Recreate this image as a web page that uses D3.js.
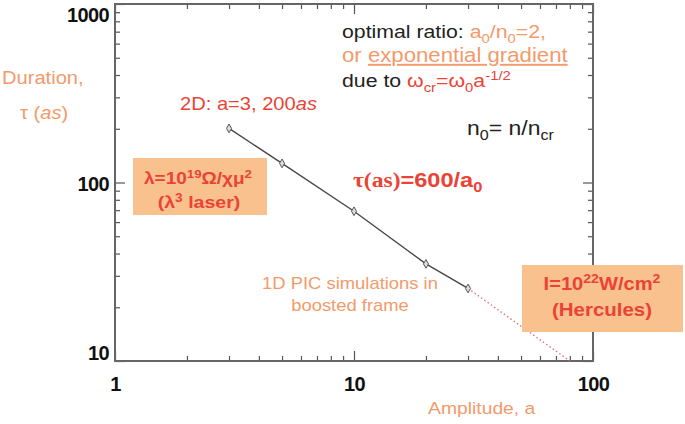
<!DOCTYPE html>
<html>
<head>
<meta charset="utf-8">
<script src="https://cdn.jsdelivr.net/npm/d3@7"></script>
<style>
  body { margin: 0; background: #fff; }
  svg { display: block; font-family: "Liberation Sans", Arial, sans-serif; }
</style>
</head>
<body>
<svg id="chart" width="685" height="424"></svg>
<script>
// values
const amplitudes = [3, 5, 10, 20, 30];
const durations = [201, 128, 69, 35, 25.5];
const extrapAmplitudes = [30, 80];
const extrapDurations = [25.5, 10];
const xMajor = [1, 10, 100];
const xMinor = [2, 3, 4, 5, 6, 7, 8, 9, 20, 30, 40, 50, 60, 70, 80, 90];
const yMajor = [10, 100, 1000];
const yMinor = [20, 30, 40, 50, 60, 70, 80, 90, 200, 300, 400, 500, 600, 700, 800, 900];

const ORANGE = "#f39a6b", RED = "#ea4335", BOX = "#f9c18e", INK = "#222";
const SX = 1.15; // slide text looks stretched sideways

const svg = d3.select("#chart");
const x = d3.scaleLog().domain([1, 100]).range([115, 593]);
const y = d3.scaleLog().domain([10, 1000]).range([361, 4]);

// ticks on all four sides, pointing inward
function ticks(axis, vals, len, tr) {
  const g = svg.append("g").attr("transform", tr)
    .call(axis.tickValues(vals).tickSize(-len).tickFormat(""));
  g.select(".domain").remove();
  g.selectAll(".tick line").attr("stroke", "#555").attr("stroke-width", 1.2);
}
ticks(d3.axisBottom(x), xMajor, 10, "translate(0,361)");
ticks(d3.axisBottom(x), xMinor, 5, "translate(0,361)");
ticks(d3.axisTop(x), xMajor, 10, "translate(0,4)");
ticks(d3.axisTop(x), xMinor, 5, "translate(0,4)");
ticks(d3.axisLeft(y), yMajor, 10, "translate(115,0)");
ticks(d3.axisLeft(y), yMinor, 5, "translate(115,0)");
ticks(d3.axisRight(y), yMajor, 10, "translate(593,0)");
ticks(d3.axisRight(y), yMinor, 5, "translate(593,0)");

svg.append("rect").attr("x", 115).attr("y", 4).attr("width", 478).attr("height", 357)
  .attr("fill", "none").attr("stroke", "#666").attr("stroke-width", 2);

// tick labels
const xl = svg.append("g").attr("transform", "translate(0,361)")
  .call(d3.axisBottom(x).tickValues(xMajor).tickSize(0).tickPadding(16).tickFormat(d3.format("d")));
xl.select(".domain").remove();
const yl = svg.append("g").attr("transform", "translate(115,0)")
  .call(d3.axisLeft(y).tickValues(yMajor).tickSize(0).tickPadding(6).tickFormat(d3.format("d")));
yl.select(".domain").remove();
const yShift = { 10: -8, 100: 2, 1000: 11 };
svg.selectAll(".tick text")
  .attr("font-family", "'Liberation Sans', Arial, sans-serif")
  .attr("font-size", 20).attr("font-weight", "bold").attr("fill", "#111")
  .attr("letter-spacing", -0.6);
yl.selectAll(".tick text").attr("transform", d => `translate(0,${yShift[d]})`);

// extrapolation
const line = d3.line().x(d => x(d[0])).y(d => y(d[1]));
svg.append("path").datum(d3.zip(extrapAmplitudes, extrapDurations)).attr("d", line)
  .attr("fill", "none").attr("stroke", "#e86a6a").attr("stroke-width", 1.3)
  .attr("stroke-dasharray", "1.5,2.5");

// simulation line + markers
const pts = d3.zip(amplitudes, durations);
svg.append("path").datum(pts).attr("d", line)
  .attr("fill", "none").attr("stroke", "#444").attr("stroke-width", 1.3);
svg.selectAll("path.mk").data(pts).join("path").attr("class", "mk")
  .attr("transform", d => `translate(${x(d[0])},${y(d[1])})`)
  .attr("d", d3.symbol(d3.symbolDiamond, 22))
  .attr("fill", "#ddd").attr("stroke", "#555").attr("stroke-width", 1);

// rich text helper
function rich(px, py, parts, opts = {}) {
  const size = opts.size || 17;
  const t = svg.append("text")
    .attr("transform", `translate(${px},${py}) scale(${SX},1)`)
    .attr("font-size", size).attr("fill", opts.fill || INK)
    .attr("font-weight", opts.bold ? "bold" : null)
    .attr("text-anchor", opts.anchor || "start");
  let shift = 0;
  parts.forEach(p => {
    const target = p.sub ? size * 0.25 : p.sup ? -size * 0.38 : 0;
    const s = t.append("tspan").text(p.t).attr("dy", target - shift);
    shift = target;
    if (p.sub || p.sup) s.attr("font-size", size * 0.7);
    if (p.fill) s.attr("fill", p.fill);
    if (p.italic) s.attr("font-style", "italic");
    if (p.u) s.attr("text-decoration", "underline");
    if (p.family) s.attr("font-family", p.family);
  });
  return t;
}

rich(2, 84, [{ t: "Duration," }], { fill: ORANGE, size: 17.5 });
rich(20, 119, [{ t: "τ (" }, { t: "as", italic: true }, { t: ")" }], { fill: ORANGE, size: 17.5 });
rich(180, 110, [{ t: "2D: a=3, 200" }, { t: "as", italic: true }], { fill: RED, size: 17.5 });

rich(342, 38, [{ t: "optimal ratio: " }, { t: "a", fill: ORANGE }, { t: "0", sub: true, fill: ORANGE },
  { t: "/n", fill: ORANGE }, { t: "0", sub: true, fill: ORANGE }, { t: "=2,", fill: ORANGE }], { size: 18.5 });
rich(342, 62, [{ t: "or " }, { t: "exponential gradient", u: true }], { size: 19.3, fill: ORANGE });
rich(342, 87, [{ t: "due to " }, { t: "ω", fill: RED }, { t: "cr", sub: true, fill: RED },
  { t: "=ω", fill: RED }, { t: "0", sub: true, fill: RED }, { t: "a", fill: RED }, { t: "-1/2", sup: true, fill: RED }], { size: 18.5 });
rich(467, 135, [{ t: "n" }, { t: "0", sub: true }, { t: "= n/n" }, { t: "cr", sub: true }], { size: 20 });

rich(353, 187, [{ t: "τ(as)", family: "'Liberation Serif', 'Times New Roman', serif" }, { t: "=600/a" }, { t: "0", sub: true }],
  { size: 20.5, bold: true, fill: RED });

rich(350, 289, [{ t: "1D PIC simulations in" }], { size: 16, fill: ORANGE, anchor: "middle" });
rich(350, 311, [{ t: "boosted frame" }], { size: 16, fill: ORANGE, anchor: "middle" });

svg.append("rect").attr("x", 133).attr("y", 158).attr("width", 134).attr("height", 57).attr("fill", BOX);
rich(198, 184, [{ t: "λ=10" }, { t: "19", sup: true }, { t: "Ω/χμ" }, { t: "2", sup: true }], { size: 16.5, bold: true, fill: RED, anchor: "middle" });
rich(199, 208, [{ t: "(λ" }, { t: "3", sup: true }, { t: " laser)" }], { size: 17, bold: true, fill: RED, anchor: "middle" });

svg.append("rect").attr("x", 522).attr("y", 265).attr("width", 161).attr("height", 67).attr("fill", BOX);
rich(602, 290, [{ t: "I=10" }, { t: "22", sup: true }, { t: "W/cm" }, { t: "2", sup: true }], { size: 17.5, bold: true, fill: RED, anchor: "middle" });
rich(602, 316, [{ t: "(Hercules)" }], { size: 17.8, bold: true, fill: RED, anchor: "middle" });

rich(428, 414, [{ t: "Amplitude, a" }], { fill: ORANGE, size: 16.8 });
</script>
</body>
</html>
